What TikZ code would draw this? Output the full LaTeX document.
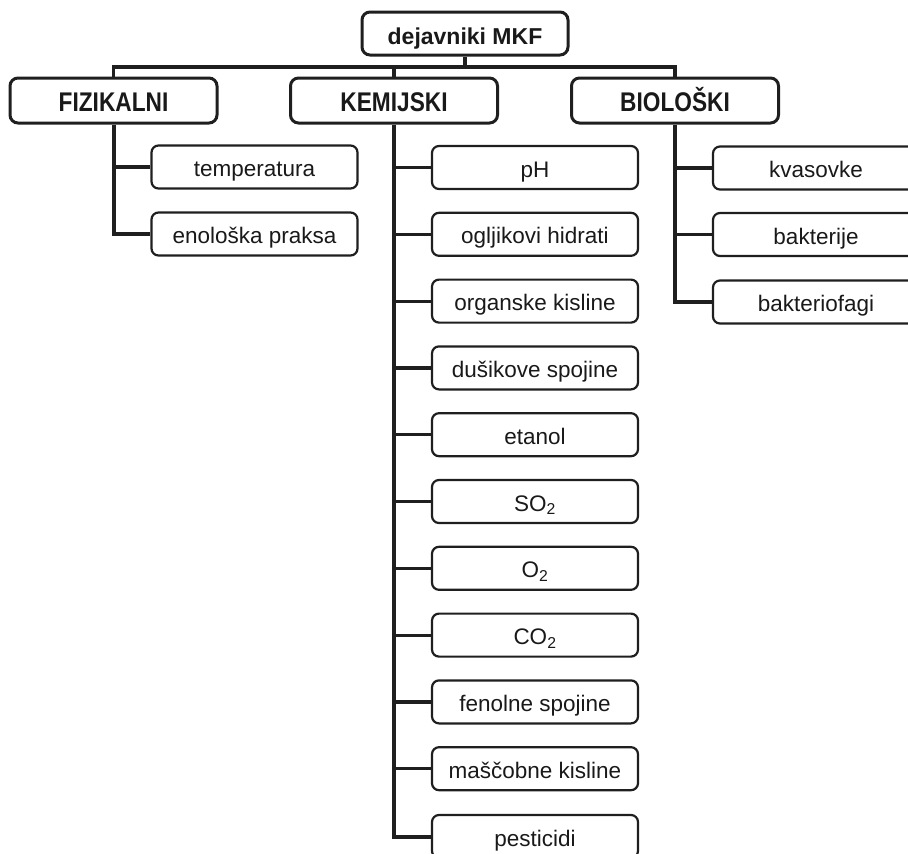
\documentclass[tikz,border=0pt]{standalone}
\usepackage{fontspec}
\usepackage{graphicx}
\setmainfont{Liberation Sans}
\newcommand\hdtxt[1]{\scalebox{0.84}[1]{#1}}
\begin{document}
\begin{tikzpicture}[x=1pt,y=-1pt,
  ink/.style={draw=black!88, text=black!90},
  topbox/.style={ink, line width=3pt, rounded corners=8pt, minimum width=206pt, minimum height=43pt, inner sep=0pt, text height=22pt, text depth=0pt, font=\fontsize{23}{26}\selectfont\bfseries},
  headbox/.style={ink, line width=3pt, rounded corners=8pt, minimum width=207pt, minimum height=45pt, inner sep=0pt, text height=22pt, text depth=0pt, font=\fontsize{27}{30}\selectfont\bfseries},
  itembox/.style={ink, line width=2.2pt, rounded corners=7pt, minimum width=206pt, minimum height=43pt, inner sep=0pt, text height=19pt, text depth=0pt, font=\fontsize{22.5}{25}\selectfont},
  conn/.style={draw=black!88, line width=3.2pt},
  trunk/.style={draw=black!88, line width=4pt}]
\useasboundingbox (0,0) rectangle (908,854);
\clip (0,0) rectangle (908,854);
% top
\node[topbox] (top) at (465,33.5) {dejavniki MKF};
\node[headbox] (fiz) at (113.5,100.5) {\hdtxt{FIZIKALNI}};
\node[headbox] (kem) at (394,100.5) {\hdtxt{KEMIJSKI}};
\node[headbox] (bio) at (675,100.5) {\hdtxt{BIOLOŠKI}};
\coordinate (bus) at (465,67);
\draw[conn] (fiz.north) |- (bus) -| (bio.north);
\draw[conn] (top.south) -- (top.south |- bus);
\draw[conn] (kem.north) -- (kem.north |- bus);
% fizikalni
\node[itembox] (f1) at (254.5,167) {temperatura};
\node[itembox] (f2) at (254.5,234) {enološka praksa};
\draw[trunk] (fiz.south) |- (f2.west);
\draw[conn] (fiz.south |- f1.west) -- (f1.west);
% kemijski
\node[itembox] (k1) at (535,167.5) {pH};
\node[itembox] (k2) at (535,234.3) {ogljikovi hidrati};
\node[itembox] (k3) at (535,301.1) {organske kisline};
\node[itembox] (k4) at (535,367.9) {dušikove spojine};
\node[itembox] (k5) at (535,434.7) {etanol};
\node[itembox] (k6) at (535,501.5) {SO\textsubscript{2}};
\node[itembox] (k7) at (535,568.3) {O\textsubscript{2}};
\node[itembox] (k8) at (535,635.1) {CO\textsubscript{2}};
\node[itembox] (k9) at (535,701.9) {fenolne spojine};
\node[itembox] (k10) at (535,768.7) {maščobne kisline};
\node[itembox] (k11) at (535,836.5) {pesticidi};
\draw[trunk] (kem.south) |- (k11.west);
\foreach \n in {k1,k2,k3,k4,k5,k6,k7,k8,k9,k10}
  \draw[conn] (kem.south |- \n.west) -- (\n.west);
% bioloski
\node[itembox] (b1) at (816,168) {kvasovke};
\node[itembox] (b2) at (816,234.5) {bakterije};
\node[itembox] (b3) at (816,302) {bakteriofagi};
\draw[trunk] (bio.south) |- (b3.west);
\foreach \n in {b1,b2}
  \draw[conn] (bio.south |- \n.west) -- (\n.west);
\end{tikzpicture}
\end{document}
